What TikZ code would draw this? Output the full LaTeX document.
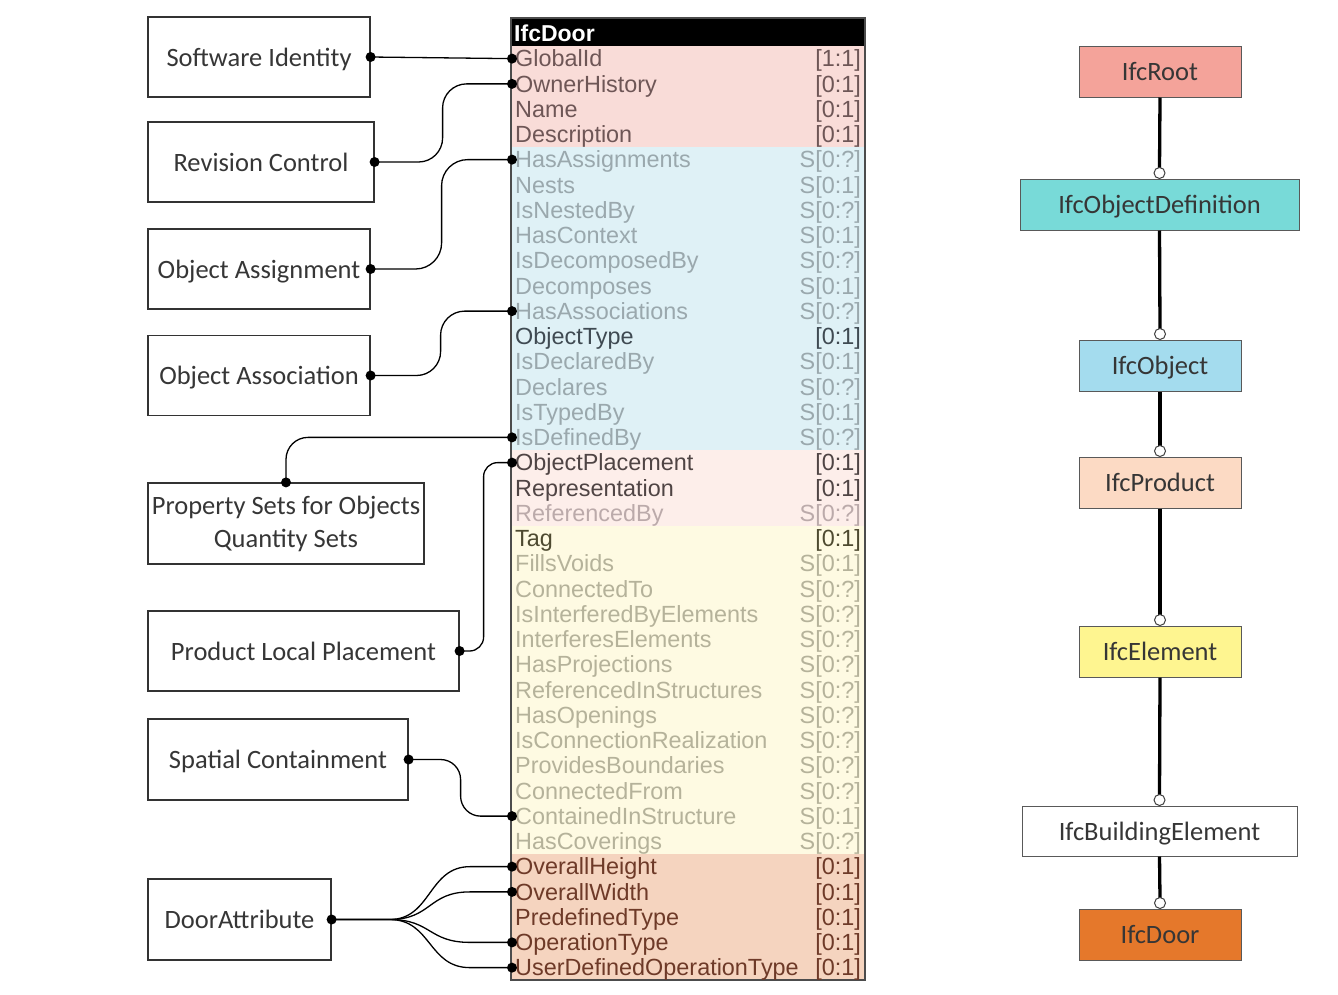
\documentclass[tikz,border=0pt]{standalone}
\usepackage{fontspec}
\setmainfont{Carlito}
\newfontfamily\tabfont{Liberation Sans}
\definecolor{pkBg}{HTML}{F9DCD8}
\definecolor{blBg}{HTML}{DFF1F6}
\definecolor{lpBg}{HTML}{FDEEEA}
\definecolor{ywBg}{HTML}{FEFAE2}
\definecolor{orBg}{HTML}{F5D4BF}
\definecolor{pkD}{HTML}{6E5656}
\definecolor{blG}{HTML}{9AA8AD}
\definecolor{blD}{HTML}{3F4A52}
\definecolor{lpD}{HTML}{4F4444}
\definecolor{lpG}{HTML}{BBAAAA}
\definecolor{ywD}{HTML}{4E4A30}
\definecolor{ywG}{HTML}{B5B29A}
\definecolor{orD}{HTML}{6E3A28}
\definecolor{cRoot}{HTML}{F4A39A}
\definecolor{cObjDef}{HTML}{78DAD8}
\definecolor{cObj}{HTML}{A4DCEE}
\definecolor{cProd}{HTML}{FCDAC4}
\definecolor{cElem}{HTML}{FEF590}
\definecolor{cDoor}{HTML}{E5782B}
\definecolor{boxText}{HTML}{363636}
\begin{document}
\begin{tikzpicture}[x=1pt,y=-1pt,
  lboxbase/.style={draw=black!80, line width=1.2pt, rectangle, inner sep=0pt, align=center,
     text=boxText, font=\fontsize{26.5}{33}\selectfont},
  lbox/.style={lboxbase, text height=22.8pt, text depth=4.6pt},
  hbox/.style={draw=black!65, line width=1pt, rectangle, inner sep=0pt, minimum height=51pt,
     text height=22.8pt, text depth=4.6pt,
     text=boxText, font=\fontsize{26.5}{33}\selectfont},
  conn/.style={line width=1.3pt, black},
  dot/.style={circle, fill=black, inner sep=0pt, minimum size=10pt},
  rowname/.style={anchor=base west, inner sep=0pt, font=\tabfont\fontsize{23.4}{25}\selectfont},
  rowcard/.style={anchor=base east, inner sep=0pt, font=\tabfont\fontsize{23.4}{25}\selectfont},
  inh/.style={line width=3.3pt, black},
  opencirc/.style={draw=black!75, fill=white, line width=1pt}
]
\useasboundingbox (0,0) rectangle (1338,994);

% ---------- table backgrounds ----------
\fill[pkBg] (511,46) rectangle (865,147);
\fill[blBg] (511,147) rectangle (865,450);
\fill[lpBg] (511,450) rectangle (865,525.75);
\fill[ywBg] (511,525.75) rectangle (865,854);
\fill[orBg] (511,854) rectangle (865,980);
\fill[black] (511,18) rectangle (865,46);
\draw[black!70, line width=2pt] (511,18) rectangle (865,980);
\node[anchor=base west, inner sep=0pt, text=white, font=\tabfont\bfseries\fontsize{23}{25}\selectfont] (hdr) at (514,41) {IfcDoor};

% ---------- rows ----------
\foreach \n/\c/\tc [count=\i] in {
GlobalId/{[1:1]}/pkD, OwnerHistory/{[0:1]}/pkD, Name/{[0:1]}/pkD, Description/{[0:1]}/pkD,
HasAssignments/{S[0:?]}/blG, Nests/{S[0:1]}/blG, IsNestedBy/{S[0:?]}/blG, HasContext/{S[0:1]}/blG,
IsDecomposedBy/{S[0:?]}/blG, Decomposes/{S[0:1]}/blG, HasAssociations/{S[0:?]}/blG, ObjectType/{[0:1]}/blD,
IsDeclaredBy/{S[0:1]}/blG, Declares/{S[0:?]}/blG, IsTypedBy/{S[0:1]}/blG, IsDefinedBy/{S[0:?]}/blG,
ObjectPlacement/{[0:1]}/lpD, Representation/{[0:1]}/lpD, ReferencedBy/{S[0:?]}/lpG,
Tag/{[0:1]}/ywD, FillsVoids/{S[0:1]}/ywG, ConnectedTo/{S[0:?]}/ywG, IsInterferedByElements/{S[0:?]}/ywG,
InterferesElements/{S[0:?]}/ywG, HasProjections/{S[0:?]}/ywG, ReferencedInStructures/{S[0:?]}/ywG,
HasOpenings/{S[0:?]}/ywG, IsConnectionRealization/{S[0:?]}/ywG, ProvidesBoundaries/{S[0:?]}/ywG,
ConnectedFrom/{S[0:?]}/ywG, ContainedInStructure/{S[0:1]}/ywG, HasCoverings/{S[0:?]}/ywG,
OverallHeight/{[0:1]}/orD, OverallWidth/{[0:1]}/orD, PredefinedType/{[0:1]}/orD,
OperationType/{[0:1]}/orD, UserDefinedOperationType/{[0:1]}/orD}{
  \pgfmathsetmacro\yy{46+25.25*(\i-0.5)}
  \node[rowname, text=\tc] (r\i) at (515,\yy+8.3) {\n};
  \node[rowcard, text=\tc] (c\i) at (861,\yy+8.3) {\c};
  \coordinate (p\i) at (512,\yy);
}

% ---------- left boxes ----------
\node[lbox, minimum width=222pt, minimum height=80pt] (sw)  at (259,57)    {Software Identity};
\node[lbox, minimum width=226pt, minimum height=80pt] (rc)  at (261,162)   {Revision Control};
\node[lbox, minimum width=222pt, minimum height=80pt] (oa)  at (259,269)   {Object Assignment};
\node[lbox, minimum width=222pt, minimum height=80pt] (oas) at (259,375.5) {Object Association};
\node[lboxbase, minimum width=276pt, minimum height=81pt] (ps)  at (286,523.5) {Property Sets for Objects\\Quantity Sets};
\node[lbox, minimum width=311pt, minimum height=80pt] (pl)  at (303.5,651) {Product Local Placement};
\node[lbox, minimum width=260pt, minimum height=81pt] (sc)  at (278,759.5) {Spatial Containment};
\node[lbox, minimum width=183pt, minimum height=81pt] (da)  at (239.5,919.5) {DoorAttribute};

% ---------- connectors ----------
\draw[conn] (sw.east) -- (p1);
\draw[conn, rounded corners=24pt] (rc.east) -- ++(68,0) |- (p2);
\draw[conn, rounded corners=26pt] (oa.east) -- ++(71,0) |- (p5);
\draw[conn, rounded corners=24pt] (oas.east) -- ++(70,0) |- (p11);
\draw[conn, rounded corners=22pt] (ps.north) |- (p16);
\draw[conn, rounded corners=14pt] (pl.east) -- ++(24,0) |- (p17);
\draw[conn, rounded corners=20pt] (sc.east) -- ++(52,0) |- (p31);
\foreach \k in {33,34,36,37}{
  \draw[conn] (da.east) -- ++(58,0) .. controls +(42,0) and +(-42,0) .. ([xshift=-42pt]p\k) -- (p\k);
}

% ---------- dots ----------
\foreach \k in {1,2,5,11,16,17,31,33,34,36,37}{ \node[dot] at (p\k) {}; }
\node[dot] at (sw.east) {};
\node[dot] at (rc.east) {};
\node[dot] at (oa.east) {};
\node[dot] at (oas.east) {};
\node[dot] at (ps.north) {};
\node[dot] at (pl.east) {};
\node[dot] at (sc.east) {};
\node[dot] at (da.east) {};

% ---------- hierarchy ----------
\node[hbox, fill=cRoot,   minimum width=162pt] (root) at (1160,71.5)   {IfcRoot};
\node[hbox, fill=cObjDef, minimum width=279pt] (od)   at (1159.5,204.5) {IfcObjectDefinition};
\node[hbox, fill=cObj,    minimum width=162pt] (obj)  at (1160,365.5)  {IfcObject};
\node[hbox, fill=cProd,   minimum width=162pt] (prod) at (1160,482.5)  {IfcProduct};
\node[hbox, fill=cElem,   minimum width=162pt] (elem) at (1160,651.5)  {IfcElement};
\node[hbox, fill=white,   minimum width=275pt, minimum height=50pt] (be) at (1159.5,831) {IfcBuildingElement};
\node[hbox, fill=cDoor,   minimum width=162pt] (door) at (1160,934.5)  {IfcDoor};

\foreach \a/\b in {root/od, od/obj, obj/prod, prod/elem, elem/be, be/door}{
  \draw[inh] (\a.south) -- ([yshift=10pt]\b.north);
  \draw[opencirc] ([yshift=5.5pt]\b.north) circle (5.5pt);
}
\end{tikzpicture}
\end{document}
